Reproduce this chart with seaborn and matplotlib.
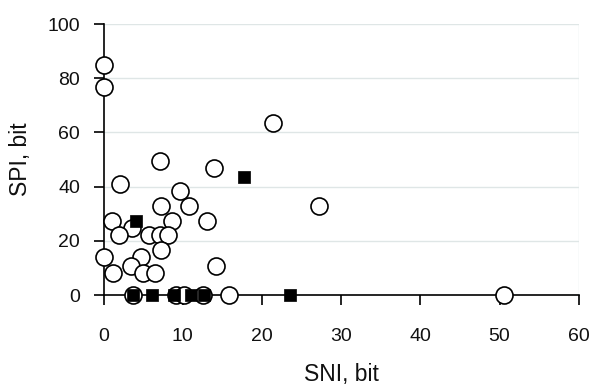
import matplotlib
matplotlib.use("Agg")
import matplotlib.pyplot as plt
import seaborn as sns
import pandas as pd

# Open circles
circle_sni = [0.0, 0.0, 21.4, 7.1, 13.9, 2.1, 9.7, 27.2, 7.3, 10.8, 1.1, 8.7, 13.0,
              3.6, 2.0, 5.7, 7.1, 8.1, 7.3, 0.0, 4.7, 14.2, 3.4, 1.2, 5.0, 6.5,
              3.7, 9.2, 10.1, 12.6, 15.9, 50.6]
circle_spi = [85.0, 76.6, 63.3, 49.3, 46.9, 41.1, 38.5, 32.8, 32.8, 32.8, 27.4, 27.4, 27.4,
              24.6, 22.0, 22.0, 22.0, 22.0, 16.6, 13.9, 13.9, 10.8, 10.8, 8.0, 8.0, 8.0,
              0.0, 0.0, 0.0, 0.0, 0.0, 0.0]
# Filled squares
square_sni = [4.1, 17.7, 3.7, 6.1, 8.9, 11.1, 12.7, 23.5]
square_spi = [27.2, 43.7, 0.0, 0.0, 0.0, 0.0, 0.0, 0.0]

x_ticks = [0, 10, 20, 30, 40, 50, 60]
y_ticks = [0, 20, 40, 60, 80, 100]

sns.set_theme(style="white")
plt.rcParams['font.family'] = ['Liberation Sans', 'DejaVu Sans']

fig = plt.figure(figsize=(5.92, 3.89), dpi=100)
ax = fig.add_axes([0.175, 0.2416, 0.8025, 0.6967])

grid_color = "#dfe6e6"
for yv in y_ticks[1:]:
    ax.axhline(yv, color=grid_color, lw=1.0, zorder=0)
ax.axvline(60, color=grid_color, lw=1.0, zorder=0)

df_c = pd.DataFrame({"SNI": circle_sni, "SPI": circle_spi})
df_s = pd.DataFrame({"SNI": square_sni, "SPI": square_spi})

sns.scatterplot(data=df_c, x="SNI", y="SPI", ax=ax, marker="o", s=150,
                facecolor="white", edgecolor="black", linewidth=1.2,
                clip_on=False, zorder=5)
sns.scatterplot(data=df_s, x="SNI", y="SPI", ax=ax, marker="s", s=75,
                color="black", edgecolor="black", linewidth=0.5,
                clip_on=False, zorder=6)

ax.set_xlim(0, 60)
ax.set_ylim(0, 100)
ax.set_xticks(x_ticks)
ax.set_yticks(y_ticks)
ax.set_xticklabels([str(v) for v in x_ticks])
ax.set_yticklabels([str(v) for v in y_ticks])

for s in ["top", "right"]:
    ax.spines[s].set_visible(False)
for s in ["left", "bottom"]:
    ax.spines[s].set_color("black")
    ax.spines[s].set_linewidth(1.2)
    ax.spines[s].set_zorder(2)

ax.tick_params(axis="x", direction="out", length=7, width=1.2, color="black",
               pad=17, labelsize=14, labelcolor="#111111", bottom=True)
ax.tick_params(axis="y", direction="out", length=7, width=1.2, color="black",
               pad=10, labelsize=14, labelcolor="#111111", left=True)

ax.set_xlabel("SNI, bit", fontsize=16.5, color="#111111", labelpad=13)
ax.set_ylabel("SPI, bit", fontsize=16.5, color="#111111", labelpad=11)

fig.savefig("out.png", dpi=100)
